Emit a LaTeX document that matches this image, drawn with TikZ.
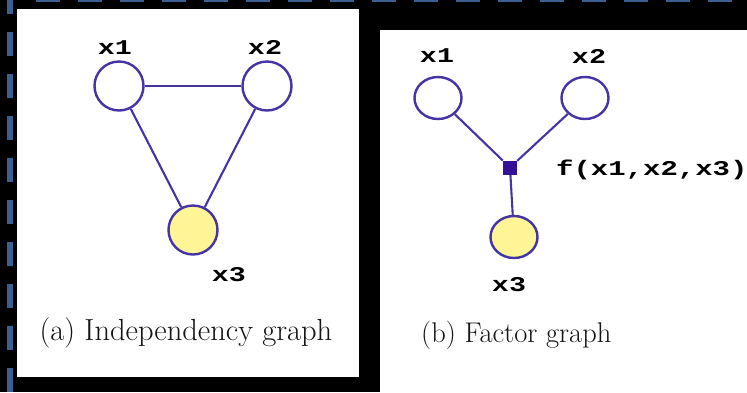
\documentclass[tikz,border=0pt]{standalone}
\usepackage{fontspec}
\usetikzlibrary{shapes.geometric}
\newfontfamily\lblfont{Liberation Mono}
\definecolor{dashblue}{RGB}{60,95,145}
\definecolor{edgeblue}{RGB}{68,52,165}
\definecolor{nodeyellow}{RGB}{255,245,150}
\definecolor{factorblue}{RGB}{52,16,150}
\tikzset{
  varnode/.style={circle, draw=edgeblue, line width=2.4pt, minimum size=49pt, inner sep=0pt, fill=white},
  varell/.style={ellipse, draw=edgeblue, line width=2.4pt, minimum width=47pt, minimum height=42pt, inner sep=0pt, fill=white},
  obs/.style={fill=nodeyellow},
  edgeline/.style={draw=edgeblue, line width=2.1pt},
  lbl/.style={font=\lblfont\bfseries\fontsize{21}{21}\selectfont, inner sep=0pt, text=black},
  capt/.style={inner sep=0pt, text=black!92},
  factor/.style={rectangle, fill=factorblue, minimum size=14pt, inner sep=0pt}
}
\begin{document}
\begin{tikzpicture}[x=1pt,y=-1pt]
\useasboundingbox (0,0) rectangle (747,392);
\fill[black] (0,0) rectangle (747,392);
\begin{scope}
\clip (0,0) rectangle (747,392);
\foreach \k in {0,...,16} \fill[dashblue] ({36+42*\k},0) rectangle ({60+42*\k},2);
\foreach \k in {0,...,9} \fill[dashblue] (7,{-10+42*\k}) rectangle (13,{14+42*\k});
\end{scope}
% panels
\fill[white] (17,9) rectangle (359,377);
\fill[white] (380,30) rectangle (747,392);
% (a) independency graph
\node[varnode] (a1) at (119,86) {};
\node[varnode] (a2) at (267,86) {};
\node[varnode, obs] (a3) at (193,230) {};
\draw[edgeline] (a1) -- (a2);
\draw[edgeline] (a1) -- (a3);
\draw[edgeline] (a2) -- (a3);
\node[lbl] (la1) at (115,47.5) {\scalebox{1.35}[1]{x1}};
\node[lbl] (la2) at (265,47.5) {\scalebox{1.35}[1]{x2}};
\node[lbl] (la3) at (229,275) {\scalebox{1.35}[1]{x3}};
\node[capt, font=\fontsize{30.5}{32}\selectfont] (capa) at (186,333) {(a) Independency graph};
% (b) factor graph
\node[varell] (b1) at (438,98) {};
\node[varell] (b2) at (585,98) {};
\node[varell, obs] (b3) at (514,237) {};
\node[factor] (f) at (510,167.5) {};
\draw[edgeline] (b1) -- (f);
\draw[edgeline] (b2) -- (f);
\draw[edgeline] (f) -- (b3);
\node[lbl] (lb1) at (437,56) {\scalebox{1.35}[1]{x1}};
\node[lbl] (lb2) at (589,56) {\scalebox{1.35}[1]{x2}};
\node[lbl] (lb3) at (509,285) {\scalebox{1.35}[1]{x3}};
\node[lbl, anchor=west] (lf) at (556,170) {\scalebox{1.38}[1]{f(x1,x2,x3)}};
\node[capt, anchor=west, font=\fontsize{28.5}{30}\selectfont] (capb) at (421,335) {(b) Factor graph};
\end{tikzpicture}
\end{document}
